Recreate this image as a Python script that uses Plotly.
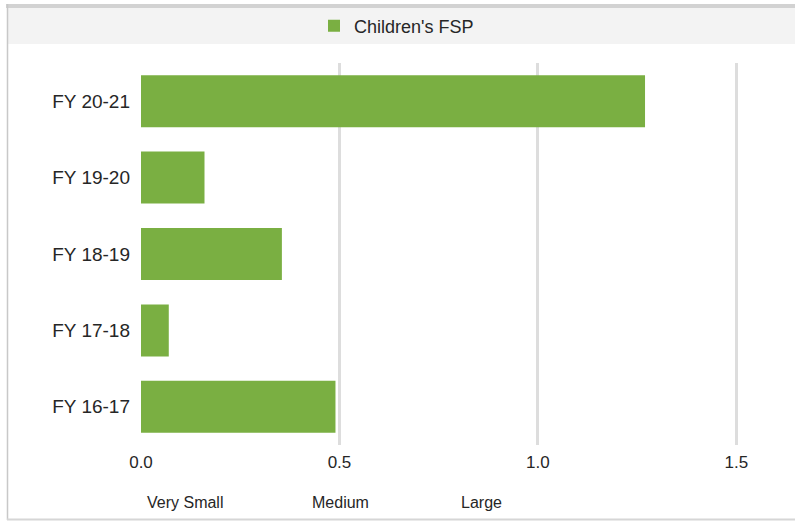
import plotly.graph_objects as go

categories = ["FY 16-17", "FY 17-18", "FY 18-19", "FY 19-20", "FY 20-21"]
values = [0.49, 0.07, 0.355, 0.16, 1.27]
series_name = "Children's FSP"
tick_vals = [0.0, 0.5, 1.0, 1.5]
tick_text = ["0.0", "0.5", "1.0", "1.5"]
scale_labels = ["Very Small", "Medium", "Large"]
scale_label_pos = [0.112, 0.503, 0.858]

FONT = "Liberation Sans, Arial, sans-serif"
GREEN = "#7aaf42"
TXT = "#262626"

fig = go.Figure()
fig.add_trace(go.Bar(
    y=categories, x=values, orientation="h", name=series_name,
    marker=dict(color=GREEN, line=dict(width=0)),
    width=0.68, showlegend=True,
))

W, H = 795, 522
ml, mr, mt, mb = 141, 19, 63, 77
PH = H - mt - mb
PW = W - ml - mr

shapes = [
    # legend band
    dict(type="rect", xref="paper", yref="paper",
         x0=(8 - ml) / PW, x1=(W - ml) / PW + 0.01,
         y0=1 + (mt - 44) / PH, y1=1 + (mt - 8) / PH,
         fillcolor="#f3f3f3", line=dict(width=0), layer="below"),
    # top border
    dict(type="line", xref="paper", yref="paper",
         x0=(6 - ml) / PW, x1=(W - ml) / PW + 0.01,
         y0=1 + (mt - 6) / PH, y1=1 + (mt - 6) / PH,
         line=dict(color="#d2d2d2", width=4), layer="below"),
    # left border
    dict(type="line", xref="paper", yref="paper",
         x0=(7.5 - ml) / PW, x1=(7.5 - ml) / PW,
         y0=-((H - 2) - (H - mb)) / PH, y1=1 + (mt - 4) / PH,
         line=dict(color="#c8c8c8", width=1.5), layer="below"),
    # bottom border
    dict(type="line", xref="paper", yref="paper",
         x0=(7 - ml) / PW, x1=(W - ml) / PW + 0.01,
         y0=-((H - 2.5) - (H - mb)) / PH, y1=-((H - 2.5) - (H - mb)) / PH,
         line=dict(color="#d6d6d6", width=2), layer="below"),
]

annotations = [
    dict(x=xp, y=-(502 - (H - mb)) / PH, xref="x", yref="paper",
         text=t, showarrow=False, xanchor="center", yanchor="middle",
         font=dict(family=FONT, size=16, color=TXT))
    for t, xp in zip(scale_labels, scale_label_pos)
]

fig.update_layout(
    width=W, height=H,
    margin=dict(l=ml, r=mr, t=mt, b=mb, pad=0, autoexpand=False),
    paper_bgcolor="white", plot_bgcolor="white",
    font=dict(family=FONT, size=18, color=TXT),
    shapes=shapes,
    annotations=annotations,
    legend=dict(orientation="h", x=(314 - ml) / PW, xanchor="left",
                y=1 + (mt - 26) / PH, yanchor="middle",
                bgcolor="rgba(0,0,0,0)", font=dict(family=FONT, size=18, color=TXT),
                itemsizing="constant"),
    xaxis=dict(range=[0, 1.6], tickvals=tick_vals, ticktext=tick_text,
               showgrid=True, gridcolor="#dddddd", gridwidth=3,
               zeroline=False, showline=False, ticks="",
               tickfont=dict(family=FONT, size=17, color=TXT),
               ticklabelstandoff=5, fixedrange=True),
    yaxis=dict(categoryorder="array", categoryarray=categories,
               showgrid=False, zeroline=False, showline=False, ticks="",
               tickfont=dict(family=FONT, size=19, color=TXT),
               ticklabelstandoff=10, fixedrange=True),
)

fig.write_html("out.html")
